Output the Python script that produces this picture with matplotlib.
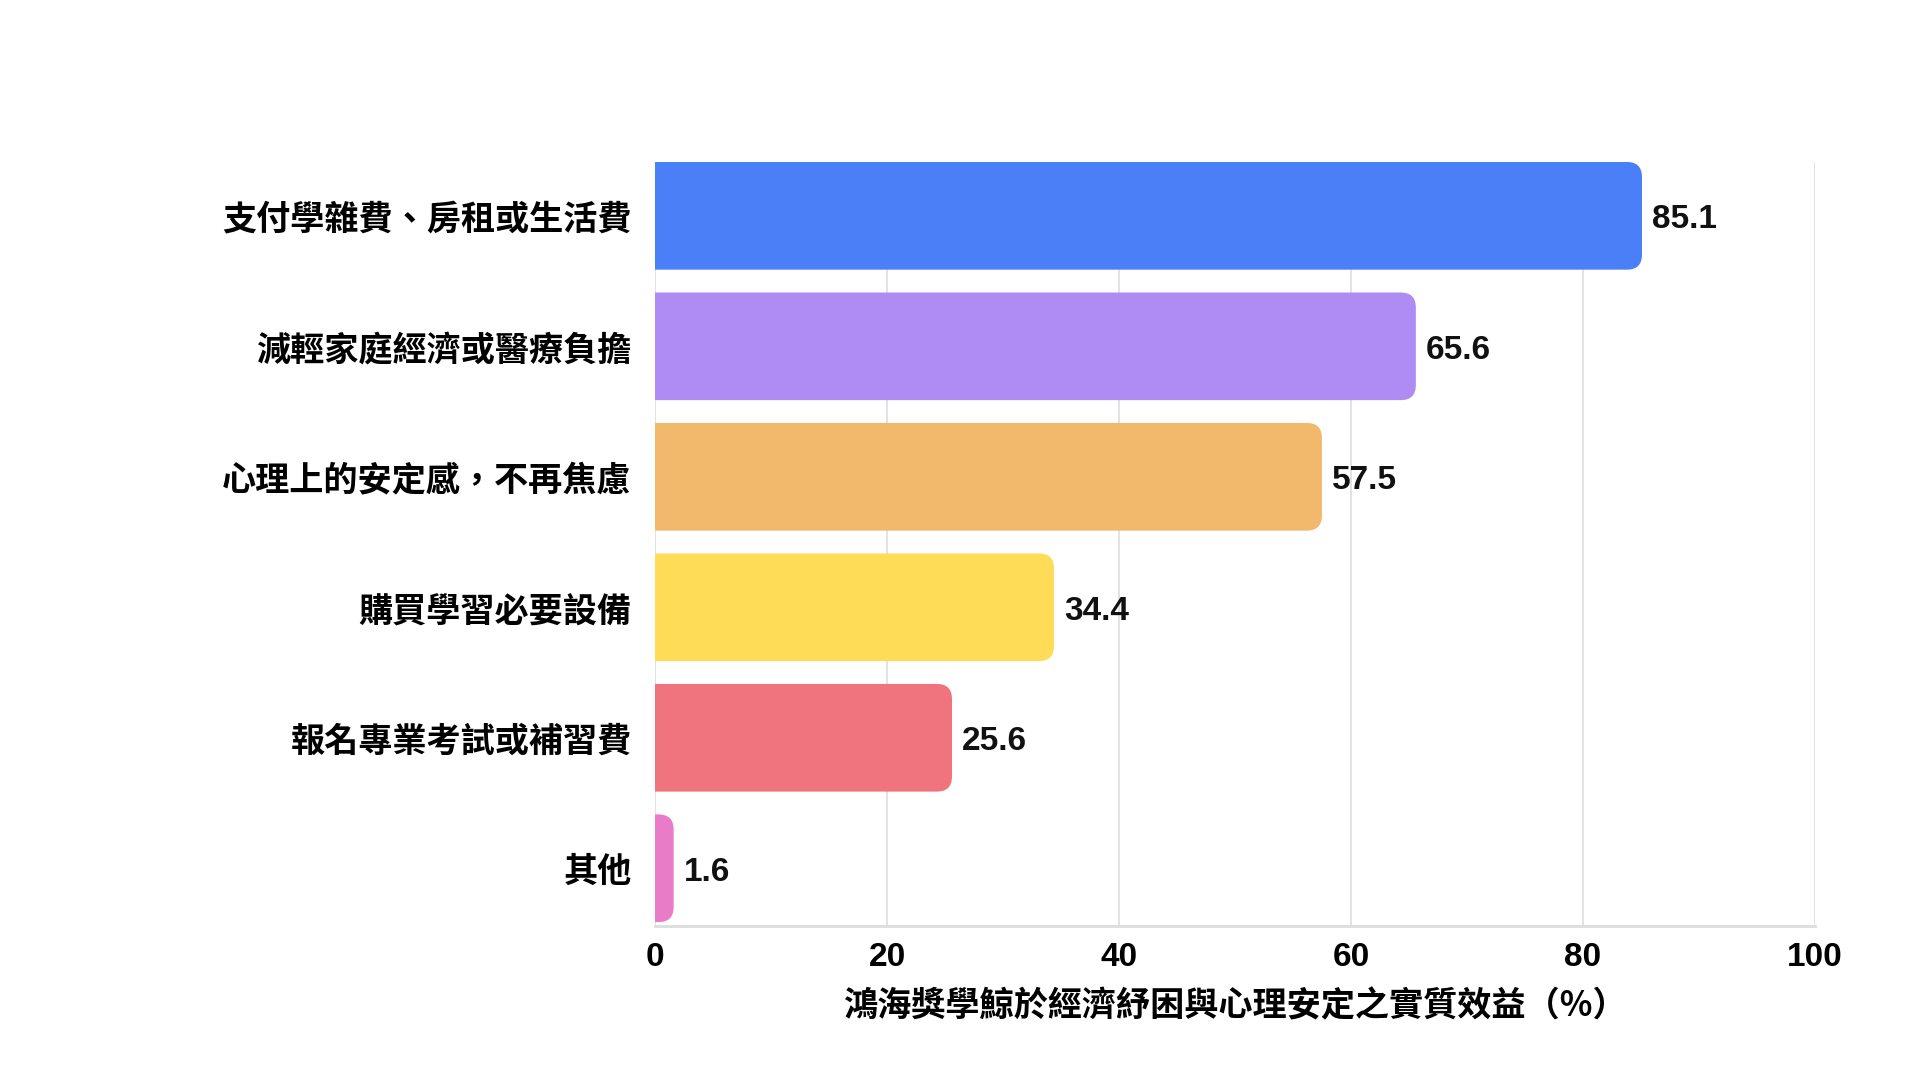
import matplotlib
matplotlib.use("Agg")
import matplotlib.pyplot as plt
from matplotlib.patches import FancyBboxPatch

# 데이터
categories = ["支付學雜費、房租或生活費", "減輕家庭經濟或醫療負擔", "心理上的安定感，不再焦慮",
              "購買學習必要設備", "報名專業考試或補習費", "其他"]
values = [85.1, 65.6, 57.5, 34.4, 25.6, 1.6]
colors = ["#4A7FF7", "#AE8CF4", "#F2B86C", "#FEDC58", "#EF747D", "#E97BC9"]
xticks = [0, 20, 40, 60, 80, 100]
xlabel = "鴻海獎學鯨於經濟紓困與心理安定之實質效益（%）"

cjk = ["Noto Sans CJK TC", "DejaVu Sans"]
num = ["Liberation Sans", "Noto Sans CJK TC"]

fig = plt.figure(figsize=(19.2, 10.8), dpi=100)
ax = fig.add_axes([0.3412, 0.1429, 0.604, 0.7074])

ypos = list(range(len(categories)))
bar_h = 0.825
ax.set_xlim(0, 100)
ax.set_ylim(5.44, -0.415)

# 막대 (오른쪽만 둥글게) - 왼쪽은 축 밖으로 빼서 잘림
r = 1.3
aspect = (764 / 5.855) / (1160 / 100.0)
for y, v, c in zip(ypos, values, colors):
    p = FancyBboxPatch((-r, y - bar_h / 2), v + r, bar_h,
                       boxstyle="round,pad=0,rounding_size=%f" % r,
                       mutation_aspect=1 / aspect, fc=c, ec="none", zorder=3)
    ax.add_patch(p)
    ax.annotate("%.1f" % v, (v, y), xytext=(7, -3), textcoords="offset points",
                va="center", ha="left", fontsize=24, fontweight="bold",
                family=num, color="#111111")

ax.set_yticks(ypos)
ax.set_yticklabels(categories, fontsize=24.6, fontweight="bold", family=cjk)
ax.set_xticks(xticks)
ax.set_xticklabels([str(t) for t in xticks], fontsize=24, fontweight="bold", family=num)
ax.tick_params(axis="y", length=0, pad=17)
ax.tick_params(axis="x", length=0, pad=12)

ax.grid(axis="x", color="#DDDDDD", linewidth=1.2, zorder=0)
ax.set_axisbelow(True)
for s in ["top", "right", "left"]:
    ax.spines[s].set_visible(False)
ax.spines["bottom"].set_color("#DDDDDD")
ax.spines["bottom"].set_linewidth(2)

ax.set_xlabel(xlabel, fontsize=24.6, fontweight="bold", family=cjk, labelpad=11)

fig.savefig("out.png", dpi=100, facecolor="white")
